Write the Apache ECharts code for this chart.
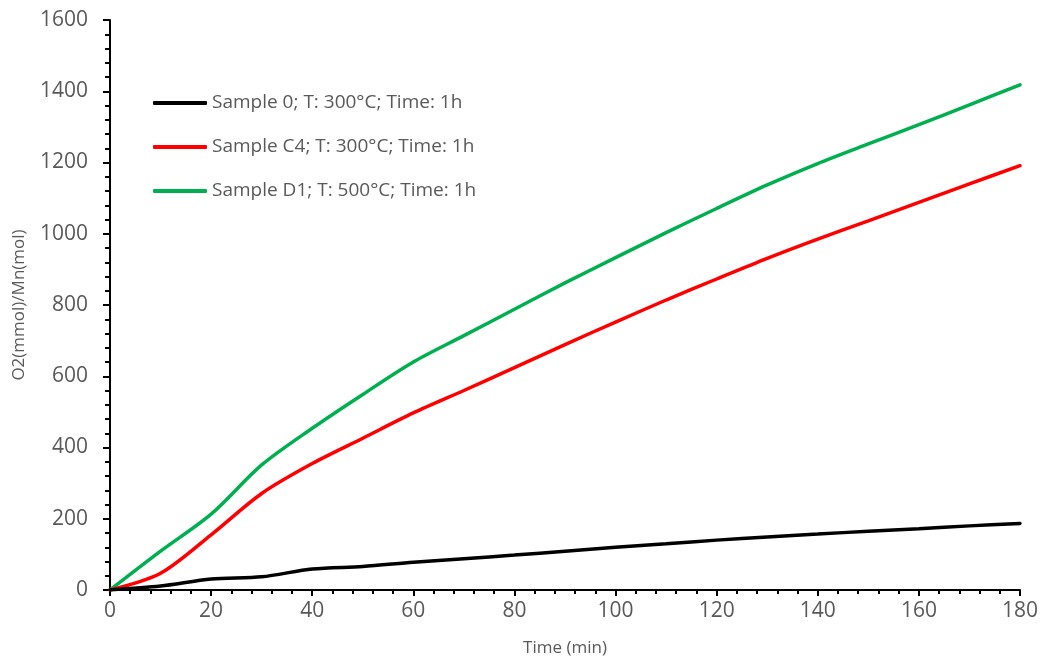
<!DOCTYPE html>
<html>
<head>
<meta charset="utf-8">
<title>O2 evolution vs time</title>
<script src="https://cdn.jsdelivr.net/npm/echarts@6/dist/echarts.min.js"></script>
<style>
  html, body { margin: 0; padding: 0; background: #ffffff; }
  #chart { width: 1042px; height: 660px; }
</style>
</head>
<body>
<div id="chart"></div>
<script>
// Sampling times (min)
const times = [0, 10, 20, 30, 40, 50, 60, 70, 80, 90, 100, 110, 120, 130, 140, 150, 160, 170, 180];

// O2 (mmol) per Mn (mol) for each sample
const sample0 = [0, 11, 31, 37, 59, 66, 78, 88, 98, 109, 120, 130, 140, 149, 157, 165, 172, 180, 187];
const sampleC4 = [0, 47, 155, 271, 355, 426, 497, 560, 624, 689, 752, 814, 873, 931, 985, 1036, 1088, 1140, 1191];
const sampleD1 = [0, 109, 213, 351, 454, 549, 640, 714, 788, 862, 933, 1003, 1071, 1137, 1197, 1252, 1306, 1362, 1418];

const seriesNames = [
  'Sample 0; T: 300°C; Time: 1h',
  'Sample C4; T: 300°C; Time: 1h',
  'Sample D1; T: 500°C; Time: 1h'
];
const seriesColors = ['#000000', '#ff0000', '#00b050'];

const xTicks = { min: 0, max: 180, step: 20 };
const yTicks = { min: 0, max: 1600, step: 200 };

const FONT = '"Open Sans", "Liberation Sans", sans-serif';
const GREY = '#595959';

function pairs(ys) {
  return times.map((t, i) => [t, ys[i]]);
}

const chart = echarts.init(document.getElementById('chart'), null, { renderer: 'canvas' });

const tickLine = { color: '#000000', width: 2 };

const axisCommon = {
  type: 'value',
  splitLine: { show: false },
  axisLine: { show: true, onZero: false, lineStyle: { color: '#000000', width: 2 } },
  nameTextStyle: { color: GREY, fontSize: 17, fontFamily: FONT }
};

chart.setOption({
  backgroundColor: '#ffffff',
  animation: false,
  grid: { left: 110, right: 22, top: 20, bottom: 70, containLabel: false, outerBoundsMode: 'none' },
  legend: {
    orient: 'vertical',
    left: 148,
    top: 86,
    itemWidth: 54,
    itemHeight: 4,
    itemGap: 20,
    itemTextGap: 4,
    icon: 'roundRect',
    textStyle: { color: GREY, fontSize: 19, fontFamily: FONT, lineHeight: 24 },
    data: seriesNames
  },
  xAxis: Object.assign({}, axisCommon, {
    min: xTicks.min,
    max: xTicks.max,
    interval: xTicks.step,
    name: 'Time (min)',
    nameLocation: 'middle',
    nameGap: 50,
    axisTick: { show: true, inside: false, length: 6, lineStyle: tickLine },
    minorTick: { show: true, splitNumber: 5, length: 4, lineStyle: tickLine },
    axisLabel: { show: true, color: GREY, fontSize: 21, fontFamily: FONT, margin: 11, formatter: v => String(v) }
  }),
  yAxis: Object.assign({}, axisCommon, {
    min: yTicks.min,
    max: yTicks.max,
    interval: yTicks.step,
    name: 'O2(mmol)/Mn(mol)',
    nameLocation: 'middle',
    nameGap: 82,
    axisTick: { show: true, inside: false, length: 7, lineStyle: tickLine },
    minorTick: { show: true, splitNumber: 5, length: 5, lineStyle: tickLine },
    axisLabel: { show: true, color: GREY, fontSize: 21, fontFamily: FONT, margin: 22, formatter: v => String(v) }
  }),
  series: [sample0, sampleC4, sampleD1].map((ys, i) => ({
    name: seriesNames[i],
    type: 'line',
    data: pairs(ys),
    smooth: 0.3,
    showSymbol: false,
    symbol: 'none',
    color: seriesColors[i],
    lineStyle: { color: seriesColors[i], width: 3.5, cap: 'round' },
    itemStyle: { color: seriesColors[i] },
    z: 3 - i
  }))
});
</script>
</body>
</html>
